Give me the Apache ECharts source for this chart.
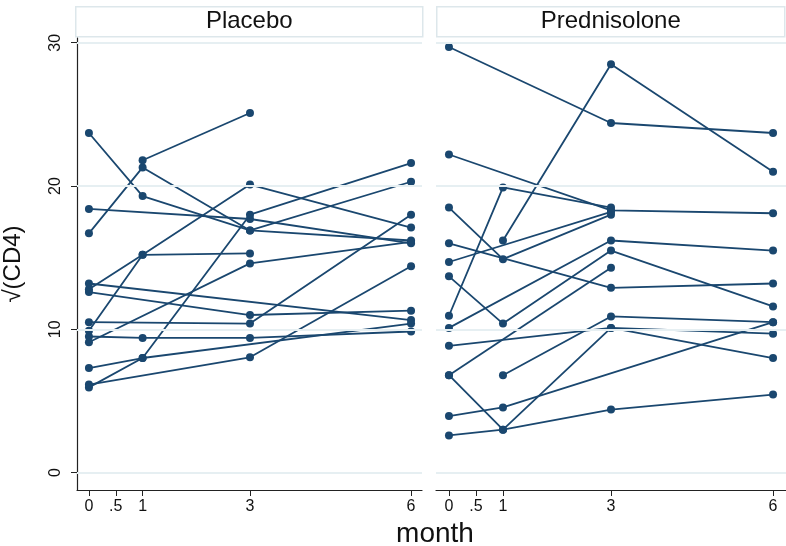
<!DOCTYPE html>
<html>
<head>
<meta charset="utf-8">
<script src="https://cdn.jsdelivr.net/npm/echarts@6/dist/echarts.min.js"></script>
<style>html,body{margin:0;background:#fff}#main{width:786px;height:546px}</style>
</head>
<body>
<div id="main"></div>
<script>
var months = [0, 1, 3, 6];
var xTicks = [0, 0.5, 1, 3, 6];
var yTicks = [0, 10, 20, 30];
var panels = ['Placebo', 'Prednisolone'];
// one row per patient: sqrt(CD4) at month 0, 1, 3, 6 (null = no visit)
var placebo = [
    [23.7, 19.3, 16.9, 16.2],
    [16.7, 21.3, 16.9, 20.3],
    [null, 21.8, 25.1, null],
    [18.4, null, 17.7, 16.0],
    [12.8, 15.2, 20.1, 17.1],
    [9.9, 15.2, 15.3, null],
    [9.1, null, 14.6, 16.1],
    [5.95, 8.0, 18.0, 21.6],
    [13.2, null, null, 10.65],
    [12.6, null, 11.0, 11.3],
    [10.5, null, 10.4, 18.0],
    [9.5, 9.4, 9.4, 9.85],
    [7.3, 8.0, null, 10.4],
    [6.15, null, 8.05, 14.4]
];
var prednisolone = [
    [29.7, null, 24.4, 23.7],
    [22.2, null, 18.3, 18.1],
    [10.95, 19.9, 18.5, null],
    [null, 16.2, 28.5, 21.0],
    [18.5, 14.9, 18.0, null],
    [16.0, null, 12.9, 13.2],
    [14.7, null, 18.2, null],
    [13.7, 10.4, 15.5, 11.6],
    [10.1, null, 16.2, 15.5],
    [6.8, null, 14.3, null],
    [8.85, null, 10.1, 9.7],
    [6.8, 3.0, 10.1, 8.0],
    [null, 6.8, 10.9, 10.5],
    [3.95, 4.55, null, 10.5],
    [2.6, 3.0, 4.4, 5.45]
];

var navy = '#1a476f';
var font = '"Liberation Sans Narrow", "Liberation Sans", Arial, sans-serif';
var main = document.getElementById('main');
var chart = echarts.init(main);

function toPoints(row) {
    var pts = [];
    row.forEach(function (v, i) { if (v != null) pts.push([months[i], v]); });
    return pts;
}

var series = [];
[placebo, prednisolone].forEach(function (group, g) {
    // background grid lines
    series.push({
        type: 'line', xAxisIndex: g, yAxisIndex: g, data: [], z: 0, silent: true,
        markLine: {
            silent: true, symbol: 'none', label: {show: false},
            lineStyle: {color: '#e6eff2', width: 2, type: 'solid'},
            data: yTicks.map(function (t) { return {yAxis: t}; })
        }
    });
    group.forEach(function (row) {
        series.push({
            type: 'line', xAxisIndex: g, yAxisIndex: g, z: 3,
            data: toPoints(row),
            symbol: 'circle', symbolSize: 8,
            itemStyle: {color: navy},
            lineStyle: {color: navy, width: 1.8}
        });
    });
});

var option = {
    animation: false,
    backgroundColor: '#fff',
    title: {
        text: 'month', left: 430, top: 515, textAlign: 'center',
        textStyle: {fontFamily: font, fontSize: 28, fontWeight: 'normal', color: '#111'}
    },
    grid: [
        {left: 75, top: 38, width: 347, height: 452},
        {left: 436, top: 38, width: 350, height: 452}
    ],
    xAxis: [0, 1].map(function (g) {
        return {
            type: 'value', gridIndex: g,
            min: g === 0 ? -0.222 : -0.24, max: g === 0 ? 6.204 : 6.24,
            axisLine: {show: true, onZero: false, lineStyle: {color: '#222', width: 1.2}},
            axisTick: {show: true, customValues: xTicks, length: 6, lineStyle: {color: '#222'}},
            axisLabel: {
                customValues: xTicks, margin: 9, fontFamily: font, fontSize: 16, color: '#111',
                formatter: function (v) { return v === 0.5 ? '.5' : String(v); }
            },
            splitLine: {show: false}
        };
    }),
    yAxis: [0, 1].map(function (g) {
        return {
            type: 'value', gridIndex: g, min: -1.21, max: 30.33,
            name: g === 0 ? '\u221A(CD4)' : '', nameLocation: 'middle', nameGap: 52,
            nameTextStyle: {fontFamily: font, fontSize: 24, color: '#111'},
            axisLine: {show: g === 0, onZero: false, lineStyle: {color: '#222', width: 1.2}},
            axisTick: {show: g === 0, customValues: yTicks, length: 6, lineStyle: {color: '#222'}},
            axisLabel: {
                show: g === 0, customValues: yTicks, rotate: 90, margin: 13,
                fontFamily: font, fontSize: 16, color: '#111'
            },
            splitLine: {show: false}
        };
    }),
    graphic: panels.map(function (name, g) {
        var x = g === 0 ? 75 : 436, w = g === 0 ? 347 : 348;
        return {
            type: 'group', left: x, top: 6,
            children: [
                {type: 'rect', shape: {x: 0, y: 0, width: w, height: 30},
                 style: {fill: '#fff', stroke: '#dde7eb', lineWidth: 1.5}},
                {type: 'text', x: w / 2, y: 15,
                 style: {text: name, fontFamily: font, fontSize: 24, fill: '#111',
                         align: 'center', verticalAlign: 'middle'}}
            ]
        };
    }),
    series: series
};
chart.setOption(option);
</script>
</body>
</html>
